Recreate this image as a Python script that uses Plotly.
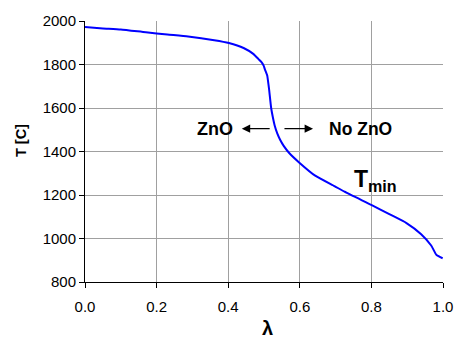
import plotly.graph_objects as go

lam = [0.0, 0.05, 0.10, 0.17, 0.23, 0.288, 0.361, 0.402, 0.443, 0.470, 0.484, 0.493, 0.499,
       0.502, 0.509, 0.511, 0.514, 0.520, 0.525, 0.530, 0.537, 0.545, 0.555, 0.571, 0.598,
       0.643, 0.698, 0.725, 0.801, 0.850, 0.898, 0.939, 0.967, 0.982, 0.999]
T = [1972, 1966, 1961, 1948, 1938, 1929, 1912, 1899, 1876, 1849, 1826, 1811, 1795,
     1780, 1750, 1727, 1689, 1600, 1555, 1518, 1483, 1454, 1426, 1392, 1350,
     1289, 1240, 1215, 1153, 1112, 1071, 1020, 968, 924, 909]

x_ticks = [0.0, 0.2, 0.4, 0.6, 0.8, 1.0]
x_tick_labels = ["0.0", "0.2", "0.4", "0.6", "0.8", "1.0"]
y_ticks = [800, 1000, 1200, 1400, 1600, 1800, 2000]

font = "Liberation Sans, Arial, sans-serif"

fig = go.Figure()
fig.add_trace(go.Scatter(x=lam, y=T, mode="lines",
                         line=dict(color="#0000FF", width=2, shape="spline", smoothing=0.5),
                         showlegend=False))

ann_y = 1505
fig.add_annotation(x=0.438, y=ann_y, ax=0.52, ay=ann_y, xref="x", yref="y",
                   axref="x", ayref="y", text="", showarrow=True,
                   arrowhead=2, arrowsize=1.4, arrowwidth=1.2, arrowcolor="black")
fig.add_annotation(x=0.637, y=ann_y, ax=0.553, ay=ann_y, xref="x", yref="y",
                   axref="x", ayref="y", text="", showarrow=True,
                   arrowhead=2, arrowsize=1.4, arrowwidth=1.2, arrowcolor="black")
fig.add_annotation(x=0.364, y=ann_y, text="<b>ZnO</b>", showarrow=False,
                   xanchor="center", yanchor="middle",
                   font=dict(family=font, size=18, color="black"))
fig.add_annotation(x=0.77, y=ann_y, text="<b>No ZnO</b>", showarrow=False,
                   xanchor="center", yanchor="middle",
                   font=dict(family=font, size=17.5, color="black"))
fig.add_annotation(x=0.811, y=1268, text="<b>T<sub>min</sub></b>", showarrow=False,
                   xanchor="center", yanchor="middle",
                   font=dict(family=font, size=23, color="black"))

# axis titles
fig.add_annotation(xref="paper", yref="paper", x=-0.178, y=0.541,
                   xanchor="center", yanchor="middle",
                   text="<b>T [C]</b>", textangle=-90, showarrow=False,
                   font=dict(family=font, size=14.5, color="black"))
fig.add_annotation(xref="paper", yref="paper", x=0.511, y=-0.176,
                   xanchor="center", yanchor="middle",
                   text="<b>λ</b>", showarrow=False,
                   font=dict(family=font, size=20, color="black"))

fig.update_layout(
    width=465, height=341,
    margin=dict(l=85, r=15, t=15, b=59),
    paper_bgcolor="white", plot_bgcolor="white",
    font=dict(family=font, size=15, color="black"),
    xaxis=dict(range=[0, 1], tickvals=x_ticks, ticktext=x_tick_labels,
               showgrid=True, gridcolor="#A0A0A0", gridwidth=1,
               showline=True, linecolor="black", linewidth=1,
               ticks="outside", ticklen=5, tickcolor="black",
               ticklabelstandoff=6, zeroline=False),
    yaxis=dict(range=[800, 2000], tickvals=y_ticks,
               showgrid=True, gridcolor="#A0A0A0", gridwidth=1,
               showline=True, linecolor="black", linewidth=1,
               ticks="outside", ticklen=5, tickcolor="black",
               zeroline=False),
)

fig.write_html("out.html")
